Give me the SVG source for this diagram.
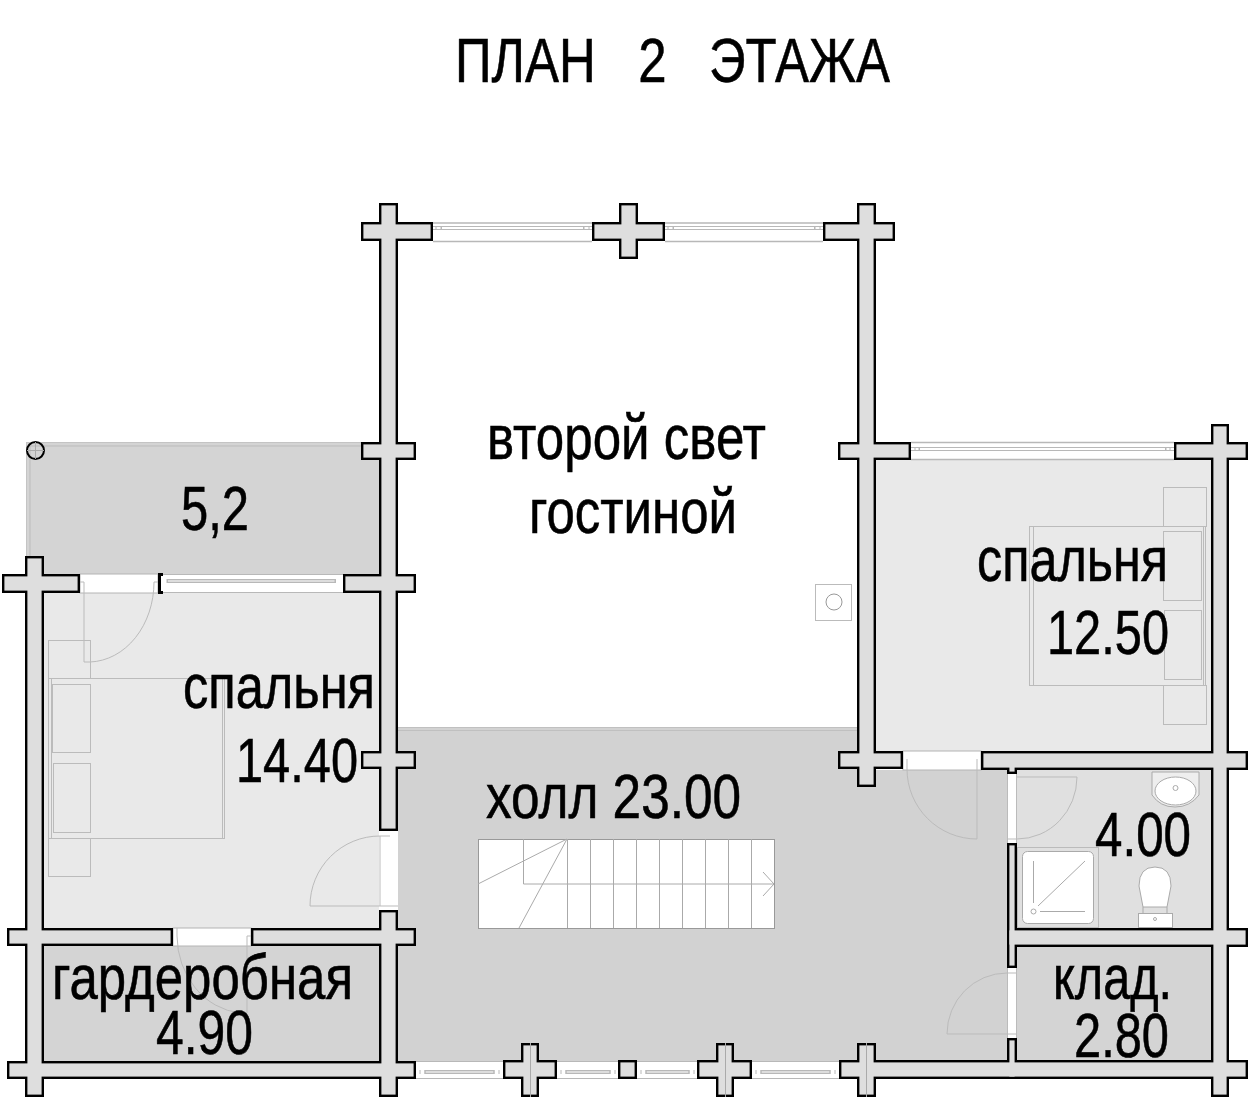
<svg xmlns="http://www.w3.org/2000/svg" xmlns:xlink="http://www.w3.org/1999/xlink" width="1250" height="1100" viewBox="0 0 1250 1100">
<style>
.t{font-family:"Liberation Sans",Arial,sans-serif;font-size:63px;fill:#000;stroke:#000;stroke-width:.6}
.l{fill:none;stroke:#aaa;stroke-width:1}
.w{fill:#fff;stroke:#b4b4b4;stroke-width:1}
.g{fill:none;stroke:#bbb;stroke-width:1}
</style>
<defs>
<g id="logs">
<rect x="28" y="559" width="13" height="535"/><rect x="5" y="577" width="72" height="13"/><rect x="10" y="931" width="160" height="12"/><rect x="10" y="1064" width="403" height="12"/><rect x="254" y="931" width="159" height="12"/>
<rect x="382" y="206" width="13" height="622"/><rect x="382" y="913" width="13" height="181"/><rect x="364" y="225" width="66" height="13"/><rect x="364" y="445" width="49" height="12"/><rect x="346" y="577" width="67" height="13"/><rect x="364" y="754" width="49" height="12"/>
<rect x="595" y="225" width="67" height="13"/><rect x="622" y="206" width="13" height="50"/><rect x="826" y="225" width="66" height="13"/><rect x="860" y="206" width="13" height="578"/><rect x="841" y="445" width="67" height="12"/><rect x="841" y="754" width="59" height="12"/>
<rect x="1214" y="427" width="12" height="667"/><rect x="1177" y="445" width="68" height="12"/><rect x="984" y="754" width="261" height="13"/><rect x="1010" y="931" width="235" height="13"/><rect x="842" y="1063" width="403" height="13"/><rect x="860" y="1046" width="13" height="48"/>
<rect x="506" y="1063" width="48" height="13"/><rect x="524" y="1046" width="12" height="48"/><rect x="621" y="1063" width="13" height="13"/><rect x="700" y="1063" width="49" height="13"/><rect x="719" y="1046" width="12" height="48"/>
<rect x="1010" y="763" width="4" height="8"/><rect x="1010" y="846" width="4" height="119"/><rect x="1010" y="1041" width="4" height="35"/>
</g>
</defs>
<rect width="1250" height="1100" fill="#fff"/>
<g id="rooms">
<rect x="26.500" y="442.500" width="353" height="132" fill="#d4d4d4" stroke="#c4c4c4" stroke-width="1"/>
<path d="M30 574V446H379" fill="none" stroke="#bbb"/>
<rect x="44" y="593" width="335" height="335" fill="#e9e9e9"/>
<rect x="44" y="946" width="335" height="115" fill="#d4d4d4"/>
<path d="M398 728H857V770H1007V1061H398Z" fill="#d2d2d2"/>
<path d="M398 727.500H857M398 730.500H857" stroke="#c0c0c0" fill="none"/>
<rect x="876" y="460" width="335" height="291" fill="#e9e9e9"/>
<rect x="1017" y="770" width="194" height="158" fill="#e0e0e0"/>
<rect x="1017" y="947" width="194" height="114" fill="#d4d4d4"/>
</g>
<g id="furniture" class="g">
<g id="bed-left">
<rect x="48.500" y="640.500" width="42" height="38"/><rect x="48.500" y="838.500" width="42" height="38"/>
<rect x="48.500" y="678.500" width="176" height="160"/><path d="M51.500 678V838M222.500 678V838"/>
<rect x="52.500" y="684.500" width="38" height="68"/><rect x="53.500" y="763.500" width="37" height="69"/>
</g>
<g id="bed-right">
<rect x="1163.500" y="487.500" width="43" height="39"/><rect x="1163.500" y="685.500" width="43" height="39"/>
<rect x="1029.500" y="526.500" width="176" height="159"/><path d="M1033.500 526V685M1203.500 526V685"/>
<rect x="1163.500" y="531.500" width="38" height="69"/><rect x="1164.500" y="610.500" width="37" height="69"/>
</g>
<g id="chimney">
<rect x="815.500" y="584.500" width="36" height="36" fill="#fff"/><circle cx="834" cy="602" r="8" fill="#fff" stroke="#999"/>
</g>
</g>
<g id="stairs">
<rect x="478.500" y="839.500" width="296" height="89" fill="#fff" stroke="#999"/>
<path class="l" d="M567.500 839V928M590.500 839V928M613.500 839V928M636.500 839V928M659.500 839V928M682.500 839V928M705.500 839V928M728.500 839V928M751.500 839V928"/>
<path class="l" d="M523.500 839V884H774M763 872L774 884L763 896M567 839L478 884M567 839L519 928"/>
</g>
<g id="openings">
<rect x="80" y="574" width="78" height="19" class="w"/>
<rect x="379" y="831" width="19" height="79" fill="#fff"/>
<rect x="173" y="928" width="78" height="18" class="w"/>
<rect x="903" y="751" width="78" height="19" class="w"/>
<rect x="1007" y="773" width="10" height="70" fill="#fff"/>
<rect x="1007" y="968" width="10" height="70" fill="#fff"/>
<path class="g" d="M1007.500 773V843M1016.500 773V843M1007.500 968V1038M1016.500 968V1038"/>
</g>
<g id="windows" fill="none">
<g id="win-top" stroke="#b8b8b8">
<path d="M433 223H592M433 241.500H592M665 223H823M665 241.500H823" stroke-width="1.500"/>
<rect x="441.500" y="226.500" width="142" height="3" fill="#fff" stroke-width="1"/><rect x="673.500" y="226.500" width="141" height="3" fill="#fff"/>
<path d="M436 226V230M441 226V230M584 226V230M589 226V230M668 226V230M673 226V230M815 226V230M820 226V230M433 226.500H441M433 229.500H441M584 226.500H592M584 229.500H592M665 226.500H673M665 229.500H673M815 226.500H823M815 229.500H823"/>
</g>
<g id="win-right" stroke="#b8b8b8">
<path d="M911 442.500H1174M911 459.500H1174" stroke-width="1.500"/>
<rect x="919.500" y="447.500" width="246" height="3" fill="#fff"/>
<path d="M915 447V451M919 447V451M1166 447V451M1170 447V451M911 447.500H919M911 450.500H919M1166 447.500H1174M1166 450.500H1174"/>
</g>
<g id="win-left" stroke="#b8b8b8">
<path d="M163 574.500H343M163 592.500H343"/>
<rect x="167.500" y="579.500" width="168" height="3" fill="#ddd"/>
<path d="M167 579V583M335 579V583"/>
</g>
<g id="win-bottom" stroke="#b8b8b8">
<rect x="416" y="1061" width="87" height="18" fill="#fff" stroke="none"/><rect x="557" y="1061" width="61" height="18" fill="#fff" stroke="none"/><rect x="637" y="1061" width="60" height="18" fill="#fff" stroke="none"/><rect x="752" y="1061" width="87" height="18" fill="#fff" stroke="none"/>
<path d="M416 1061.500H503M557 1061.500H618M637 1061.500H697M752 1061.500H839M416 1078.500H503M557 1078.500H618M637 1078.500H697M752 1078.500H839"/>
<rect x="425" y="1070.500" width="69" height="3" fill="#ddd"/><rect x="566" y="1070.500" width="44" height="3" fill="#ddd"/><rect x="646" y="1070.500" width="43" height="3" fill="#ddd"/><rect x="761" y="1070.500" width="69" height="3" fill="#ddd"/>
<path d="M420 1070V1074M425 1070V1074M494 1070V1074M499 1070V1074M561 1070V1074M566 1070V1074M610 1070V1074M615 1070V1074M641 1070V1074M646 1070V1074M689 1070V1074M694 1070V1074M756 1070V1074M761 1070V1074M830 1070V1074M835 1070V1074"/>
</g>
</g>
<g id="walls">
<use href="#logs" xlink:href="#logs" fill="#000" stroke="#000" stroke-width="6"/>
<use href="#logs" xlink:href="#logs" fill="#dedede" stroke="#dedede" stroke-width="1.200"/>
<path d="M530.500 1043V1097M725.500 1043V1097M866.500 1043V1097" stroke="#aaa" fill="none"/>
<path d="M163 574.500H159.500V592.500H163" fill="none" stroke="#000" stroke-width="3"/>
</g>
<g id="doors" class="g">
<path class="g" d="M84 582H80M84 582V662H90A66 80 0 0 0 154 582H158"/>
<path class="g" d="M398 906H380V836A70 70 0 0 0 310 906H380M380 836H390"/>
<path class="g" d="M177 936V928M177 936A70 78 0 0 0 240 1013H247V936H251"/>
<path class="g" d="M907 759V769A70 70 0 0 0 977 839V759"/>
<path class="g" d="M1007 839H1017A60 62 0 0 0 1077 777H1017"/>
<path class="g" d="M1017 973H1007A60 61 0 0 0 947 1034H1017"/>
</g>
<g id="fixtures" class="l">
<g id="shower">
<rect x="1017.500" y="847.500" width="81" height="80" fill="#eee" class="g"/>
<rect x="1022.500" y="851.500" width="71" height="72" rx="5" fill="#fff" stroke="#aaa"/>
<path d="M1033.500 861V903M1040 911.500H1085M1038 906L1085 861"/>
<circle cx="1033.500" cy="911.500" r="2.500"/>
</g>
<g id="sink">
<path d="M1152 772H1199V795Q1190 807 1175 807Q1160 807 1152 795Z" fill="#eee" stroke="#aaa"/>
<ellipse cx="1175.500" cy="791" rx="20.500" ry="14" fill="#fff" stroke="#aaa"/>
<circle cx="1175.500" cy="788" r="2.500"/>
</g>
<g id="toilet">
<path d="M1143 907L1139 886Q1139 867 1155 867Q1171 867 1171 886L1167 907Z" fill="#fff" stroke="#aaa"/>
<rect x="1138.500" y="913.500" width="34" height="14" fill="#fff" stroke="#aaa"/>
<path d="M1143 907V913M1167 907V913"/>
<circle cx="1155" cy="919" r="1.500"/>
</g>
</g>
<g id="column">
<circle cx="35.500" cy="450.500" r="8.500" fill="none" stroke="#000" stroke-width="2"/>
<path d="M27 450.500H44M35.500 442V459" stroke="#aaa" fill="none"/>
</g>
<g id="labels">
<text class="t" x="455" y="82" textLength="435" lengthAdjust="spacingAndGlyphs" xml:space="preserve">ПЛАН   2   ЭТАЖА</text>
<text class="t" x="487" y="459" textLength="279" lengthAdjust="spacingAndGlyphs">второй свет</text>
<text class="t" x="529" y="533" textLength="208" lengthAdjust="spacingAndGlyphs">гостиной</text>
<text class="t" x="181" y="530" textLength="68" lengthAdjust="spacingAndGlyphs">5,2</text>
<text class="t" x="183" y="708" textLength="192" lengthAdjust="spacingAndGlyphs">спальня</text>
<text class="t" x="236" y="782" textLength="122" lengthAdjust="spacingAndGlyphs">14.40</text>
<text class="t" x="977" y="581" textLength="191" lengthAdjust="spacingAndGlyphs">спальня</text>
<text class="t" x="1047" y="654" textLength="122" lengthAdjust="spacingAndGlyphs">12.50</text>
<text class="t" x="486" y="818" textLength="255" lengthAdjust="spacingAndGlyphs">холл 23.00</text>
<text class="t" x="52" y="999" textLength="301" lengthAdjust="spacingAndGlyphs">гардеробная</text>
<text class="t" x="156" y="1054" textLength="97" lengthAdjust="spacingAndGlyphs">4.90</text>
<text class="t" x="1095" y="856" textLength="96" lengthAdjust="spacingAndGlyphs">4.00</text>
<text class="t" x="1053" y="999" textLength="119" lengthAdjust="spacingAndGlyphs">клад.</text>
<text class="t" x="1074" y="1057" textLength="95" lengthAdjust="spacingAndGlyphs">2.80</text>
</g>
</svg>
